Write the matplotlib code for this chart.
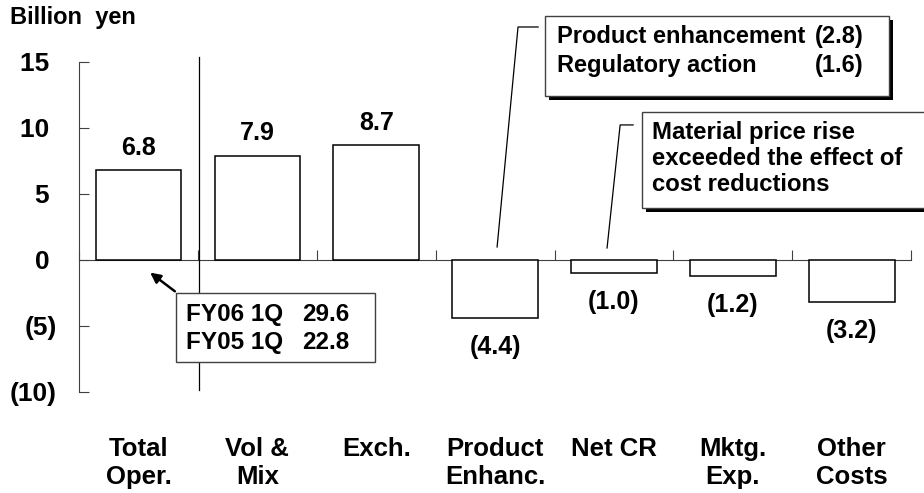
import numpy as np
import matplotlib
matplotlib.use("Agg")
import matplotlib.pyplot as plt
import matplotlib.patches as mpatches
import matplotlib.patheffects as pe

# ── data ────────────────────────────────────────────────────────────────
categories = ["Total\nOper.", "Vol &\nMix", "Exch.", "Product\nEnhanc.",
              "Net CR", "Mktg.\nExp.", "Other\nCosts"]
values = [6.8, 7.9, 8.7, -4.4, -1.0, -1.2, -3.2]
ytick_vals = [15, 10, 5, 0, -5, -10]
ytick_text = ["15", "10", "5", "0", "(5)", "(10)"]

fy_rows = [("FY06 1Q", "29.6"), ("FY05 1Q", "22.8")]
prod_rows = [("Product enhancement", "(2.8)"), ("Regulatory action", "(1.6)")]
material_note = "Material price rise\nexceeded the effect of\ncost reductions"

# ── style ───────────────────────────────────────────────────────────────
plt.rcParams.update({
    'font.family': ['Liberation Sans', 'DejaVu Sans'],
    'font.weight': 'bold',
})
edge = '0.25'

fig = plt.figure(figsize=(9.24, 4.93), dpi=100)
ax = fig.add_axes([0.0855, 0.2049, 0.9006, 0.6694])

x = np.arange(len(values)) + 0.5
ax.bar(x, values, width=0.72, color='white', edgecolor='black', lw=1.1, zorder=3)

# value labels
for xi, v in zip(x, values):
    if v >= 0:
        ax.annotate(f"{v:.1f}", (xi, v), xytext=(0, 16), textcoords='offset points',
                    ha='center', va='center', fontsize=18, fontweight='bold')
    else:
        ax.annotate(f"({-v:.1f})", (xi, v), xytext=(0, -21), textcoords='offset points',
                    ha='center', va='center', fontsize=18, fontweight='bold')

# category labels under the plot
for xi, c in zip(x, categories):
    ax.text(xi, -0.137, c, transform=ax.get_xaxis_transform(), ha='center', va='top',
            fontsize=18.5, fontweight='bold', multialignment='center', linespacing=1.2)

# ── axes ────────────────────────────────────────────────────────────────
ax.set_xlim(0, 7)
ax.set_ylim(-10, 15)
for s in ['top', 'right']:
    ax.spines[s].set_visible(False)
ax.spines['bottom'].set_position(('data', 0))
ax.spines['bottom'].set_color(edge)
ax.spines['left'].set_color(edge)
ax.set_xticks(np.arange(0, 8))
ax.set_xticklabels([])
ax.set_yticks(ytick_vals)
# accounting style: closing bracket hangs past the digits
ax.set_yticklabels([t if t.startswith('(') else t + ' ' for t in ytick_text],
                   fontsize=19, fontweight='bold')
ax.tick_params(axis='both', direction='in', length=7, color=edge)
ax.tick_params(axis='y', pad=16)

fig.text(0.011, 0.965, "Billion  yen", fontsize=17, fontweight='bold', va='center', ha='left')

# separator between total and the breakdown
ax.plot([1.01, 1.01], [15.4, -9.85], color='black', lw=0.9, zorder=4, clip_on=False)

# ── FY box + arrow ──────────────────────────────────────────────────────
ax.add_patch(mpatches.Rectangle((0.816, -7.73), 1.674, 5.23, fc='white', ec=edge,
                                lw=1.0, zorder=5))
for i, (lab, num) in enumerate(fy_rows):
    yy = -4.1 - 2.12 * i
    ax.text(0.9, yy, lab, fontsize=17.5, fontweight='bold', va='center', ha='left', zorder=6)
    ax.text(1.876, yy, num, fontsize=17.5, fontweight='bold', va='center', ha='left', zorder=6)
ax.annotate("", xy=(0.58, -0.83), xytext=(0.825, -2.5),
            arrowprops=dict(arrowstyle='-|>', color='black', lw=1.8, mutation_scale=15),
            zorder=6)

# ── callout boxes with shadow ───────────────────────────────────────────
shadow = [pe.SimplePatchShadow(offset=(3, -3), shadow_rgbFace='black', alpha=1.0),
          pe.Normal()]

prod_box = mpatches.Rectangle((3.92, 12.42), 2.895, 6.06, fc='white', ec=edge, lw=1.0,
                              zorder=5, clip_on=False)
prod_box.set_path_effects(shadow)
ax.add_patch(prod_box)
for i, (lab, num) in enumerate(prod_rows):
    yy = 16.9 - 2.2 * i
    ax.text(4.02, yy, lab, fontsize=17, fontweight='bold', va='center', ha='left',
            zorder=6, clip_on=False)
    ax.text(6.6, yy, num, fontsize=17, fontweight='bold', va='center', ha='right',
            zorder=6, clip_on=False)
ax.plot([3.862, 3.693, 3.517], [17.65, 17.65, 0.985], color='black', lw=0.9,
        zorder=4, clip_on=False)

mat_box = mpatches.Rectangle((4.737, 3.94), 2.6, 7.27, fc='white', ec=edge, lw=1.0,
                             zorder=5, clip_on=False)
mat_box.set_path_effects(shadow)
ax.add_patch(mat_box)
ax.text(4.82, 7.7, material_note, fontsize=17.2, fontweight='bold', va='center',
        ha='left', linespacing=1.16, zorder=6, clip_on=False)
ax.plot([4.661, 4.552, 4.442], [10.23, 10.23, 0.91], color='black', lw=0.9,
        zorder=4, clip_on=False)

fig.savefig("out.png", dpi=100)
